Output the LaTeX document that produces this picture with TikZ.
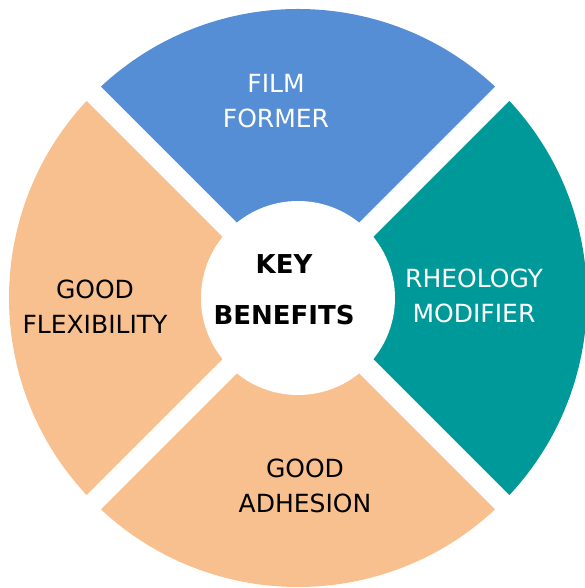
\documentclass[tikz,border=0pt]{standalone}
\usepackage{fontspec}
\setmainfont{DejaVu Sans}
\definecolor{filmblue}{RGB}{85,142,213}
\definecolor{rheoteal}{RGB}{0,153,153}
\definecolor{peach}{RGB}{249,192,143}
\begin{document}
\begin{tikzpicture}[x=1pt,y=1pt,
  gapband/.style={draw=white,line width=20pt},
  txt/.style={align=center,font=\fontsize{25}{34.5}\selectfont,inner sep=0pt},
  hubtxt/.style={align=center,font=\bfseries\fontsize{26}{51}\selectfont,inner sep=0pt}]
\useasboundingbox (0,0) rectangle (585,588);
\clip (0,0) rectangle (585,588);
\coordinate (C) at (298,290);
% sectors
\fill[filmblue] (C) -- ++(45:289) arc[start angle=45,end angle=135,radius=289] -- cycle;
\fill[peach] (C) -- ++(135:289) arc[start angle=135,end angle=225,radius=289] -- cycle;
\fill[peach] (C) -- ++(225:289) arc[start angle=225,end angle=315,radius=289] -- cycle;
\fill[rheoteal] (C) -- ++(-45:289) arc[start angle=-45,end angle=45,radius=289] -- cycle;
% white gaps
\coordinate (g1) at ([shift={(45:300)}]C);
\coordinate (g2) at ([shift={(135:300)}]C);
\coordinate (g3) at ([shift={(225:300)}]C);
\coordinate (g4) at ([shift={(315:300)}]C);
\draw[gapband] (g1) -- (g3);
\draw[gapband] (g2) -- (g4);
% hub
\node[circle,fill=white,minimum size=194pt,inner sep=0pt] (hub) at (C) {};
% labels
\node[hubtxt] (key) at (284,298) {KEY\\BENEFITS};
\node[txt,text=white] (film) at (276,487) {FILM\\FORMER};
\node[txt,text=white] (rheo) at (474,292) {RHEOLOGY\\MODIFIER};
\node[txt] (flex) at (95,281.5) {GOOD\\FLEXIBILITY};
\node[txt] (adh) at (305,102) {GOOD\\ADHESION};
\end{tikzpicture}
\end{document}
